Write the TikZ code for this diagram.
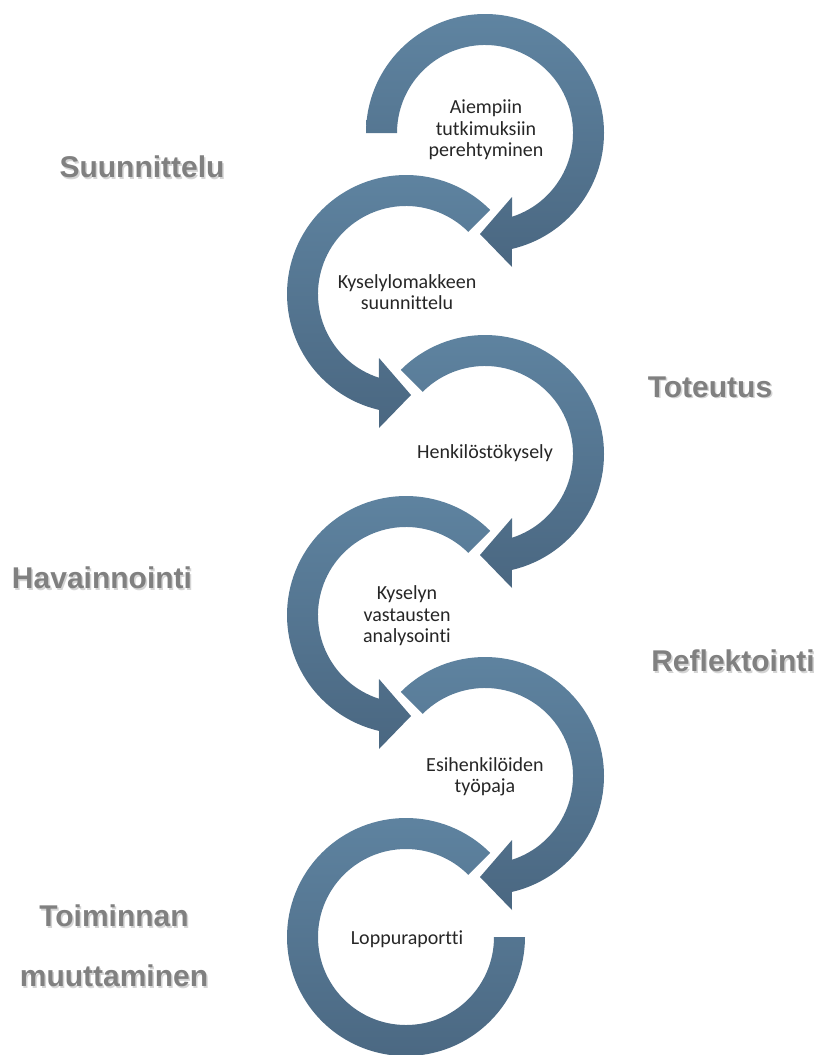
\documentclass[tikz,border=0pt]{standalone}
\usepackage{fontspec}
\setmainfont{Carlito}[Ligatures=NoCommon]
\newfontfamily\labelfont{Liberation Sans}
\usepackage{xcolor}
\usetikzlibrary{calc}

\definecolor{ringtop}{RGB}{95,132,161}
\definecolor{ringbot}{RGB}{74,103,129}
\definecolor{labelgray}{RGB}{128,128,128}
\definecolor{labelshade}{RGB}{212,212,212}

\begin{document}
\begin{tikzpicture}[x=1pt,y=1pt]
    \tikzstyle{ring}=[top color=ringtop,bottom color=ringbot,draw=none]
    \tikzstyle{steptext}=[align=center,text=black!85,inner sep=0pt,font=\fontsize{20}{21.5}\selectfont]
    \tikzstyle{phase}=[align=center,inner sep=0pt,text=labelgray,font=\labelfont\bfseries\fontsize{30}{60}\selectfont]
    \tikzstyle{phaseshadow}=[phase,text=labelshade]

    \useasboundingbox (0,0) rectangle (819,-1055);

    \coordinate (c1) at (485,-133);
    \coordinate (c2) at (406,-294);
    \coordinate (c3) at (485,-454);
    \coordinate (c4) at (406,-615);
    \coordinate (c5) at (485,-776);
    \coordinate (c6) at (406,-937);

    % right hand rings turn clockwise, left hand rings the other way
    \shade[ring] ($(c1)+(180:119)$) arc[start angle=180, end angle=-77, radius=119]
        -- ($(c1)+(27,-134)$) -- ($(c1)+(-5,-101)$) -- ($(c1)+(27,-64)$)
        -- ($(c1)+(-72:88)$) arc[start angle=-72, end angle=180, radius=88] -- cycle;
    \shade[ring] ($(c2)+(45:119)$) arc[start angle=45, end angle=257, radius=119]
        -- ($(c2)+(-27,-134)$) -- ($(c2)+(5,-101)$) -- ($(c2)+(-27,-64)$)
        -- ($(c2)+(252:88)$) arc[start angle=252, end angle=45, radius=88] -- cycle;
    \shade[ring] ($(c3)+(135:119)$) arc[start angle=135, end angle=-77, radius=119]
        -- ($(c3)+(27,-134)$) -- ($(c3)+(-5,-101)$) -- ($(c3)+(27,-64)$)
        -- ($(c3)+(-72:88)$) arc[start angle=-72, end angle=135, radius=88] -- cycle;
    \shade[ring] ($(c4)+(45:119)$) arc[start angle=45, end angle=257, radius=119]
        -- ($(c4)+(-27,-134)$) -- ($(c4)+(5,-101)$) -- ($(c4)+(-27,-64)$)
        -- ($(c4)+(252:88)$) arc[start angle=252, end angle=45, radius=88] -- cycle;
    \shade[ring] ($(c5)+(135:119)$) arc[start angle=135, end angle=-77, radius=119]
        -- ($(c5)+(27,-134)$) -- ($(c5)+(-5,-101)$) -- ($(c5)+(27,-64)$)
        -- ($(c5)+(-72:88)$) arc[start angle=-72, end angle=135, radius=88] -- cycle;
    % last ring has no head
    \shade[ring] ($(c6)+(45:119)$) arc[start angle=45, end angle=360, radius=119]
        -- ($(c6)+(0:88)$) arc[start angle=360, end angle=45, radius=88] -- cycle;

    \node[steptext] (t1) at (486,-130) {Aiempiin\\tutkimuksiin\\perehtyminen};
    \node[steptext] (t2) at (407,-292) {Kyselylomakkeen\\suunnittelu};
    \node[steptext] (t3) at (485,-453) {Henkilöstökysely};
    \node[steptext] (t4) at (407,-616) {Kyselyn\\vastausten\\analysointi};
    \node[steptext] (t5) at (485,-777) {Esihenkilöiden\\työpaja};
    \node[steptext] (t6) at (407,-939) {Loppuraportti};

    % phase labels, shadow first
    \node[phaseshadow] (p1s) at (143.5,-168.5) {Suunnittelu};
    \node[phase] (p1) at (142,-167) {Suunnittelu};
    \node[phaseshadow] (p2s) at (711.5,-388.5) {Toteutus};
    \node[phase] (p2) at (710,-387) {Toteutus};
    \node[phaseshadow] (p3s) at (103.5,-579.5) {Havainnointi};
    \node[phase] (p3) at (102,-578) {Havainnointi};
    \node[phaseshadow] (p4s) at (734.5,-662.5) {Reflektointi};
    \node[phase] (p4) at (733,-661) {Reflektointi};
    \node[phaseshadow] (p5s) at (115.5,-947.5) {Toiminnan\\muuttaminen};
    \node[phase] (p5) at (114,-946) {Toiminnan\\muuttaminen};

\end{tikzpicture}
\end{document}
